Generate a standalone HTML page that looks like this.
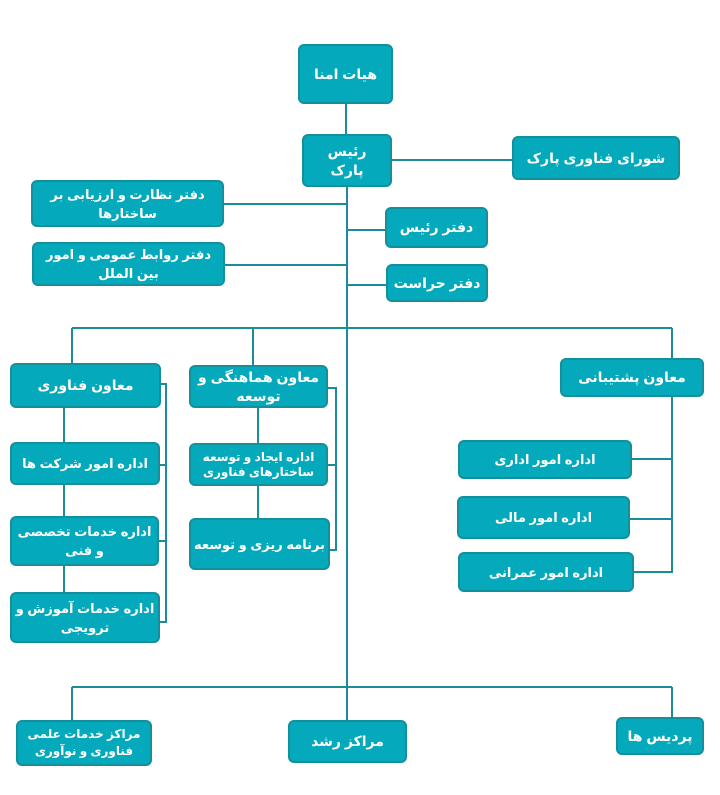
<!DOCTYPE html>
<html><head><meta charset="utf-8"><style>
body{margin:0;width:720px;height:795px;background:#fff;position:relative;overflow:hidden}
.b{position:absolute;box-sizing:border-box;background:#05a9bc;border:2px solid #13909c;border-radius:6px;color:#fff;font-family:"Liberation Sans","DejaVu Sans",sans-serif;font-weight:bold;font-size:14px;line-height:19px;display:flex;align-items:center;justify-content:center;text-align:center;direction:rtl;padding:0 2px;white-space:nowrap}
svg{position:absolute;left:0;top:0}
</style></head><body>
<svg width="720" height="795"><g stroke="#1a8d99" stroke-width="2" fill="none">
<path d="M346 104V134M392 160H512M347 187V720M224 204H347M225 265H347M347 230H385M347 285H386"/>
<path d="M72 328H672M72 328V363M253 328V365M672 328V358"/>
<path d="M64 408V592M161 384H166V622H160M160 465H166M159 541H166"/>
<path d="M258 408V443M258 486V518M328 388H336V550H330M328 465H336"/>
<path d="M672 397V572H634M632 459H672M630 519H672"/>
<path d="M72 687H672M72 687V720M672 687V717"/>
</g></svg>
<div class="b" style="left:298px;top:44px;width:95px;height:60px">هیات امنا</div>
<div class="b" style="left:302px;top:134px;width:90px;height:53px">رئیس<br>پارک</div>
<div class="b" style="left:512px;top:136px;width:168px;height:44px">شورای فناوری پارک</div>
<div class="b" style="left:31px;top:180px;width:193px;height:47px;font-size:13px">دفتر نظارت و ارزیابی بر<br>ساختارها</div>
<div class="b" style="left:32px;top:242px;width:193px;height:44px;font-size:13px">دفتر روابط عمومی و امور<br>بین الملل</div>
<div class="b" style="left:385px;top:207px;width:103px;height:41px">دفتر رئیس</div>
<div class="b" style="left:386px;top:264px;width:102px;height:38px">دفتر حراست</div>
<div class="b" style="left:10px;top:363px;width:151px;height:45px">معاون فناوری</div>
<div class="b" style="left:189px;top:365px;width:139px;height:43px">معاون هماهنگی و<br>توسعه</div>
<div class="b" style="left:560px;top:358px;width:144px;height:39px">معاون پشتیبانی</div>
<div class="b" style="left:10px;top:442px;width:150px;height:43px;font-size:13px">اداره امور شرکت ها</div>
<div class="b" style="left:10px;top:516px;width:149px;height:50px;font-size:13px">اداره خدمات تخصصی<br>و فنی</div>
<div class="b" style="left:10px;top:592px;width:150px;height:51px;font-size:13px">اداره خدمات آموزش و<br>ترویجی</div>
<div class="b" style="left:189px;top:443px;width:139px;height:43px;font-size:12px;line-height:15px">اداره ایجاد و توسعه<br>ساختارهای فناوری</div>
<div class="b" style="left:189px;top:518px;width:141px;height:52px;font-size:13px">برنامه ریزی و توسعه</div>
<div class="b" style="left:458px;top:440px;width:174px;height:39px;font-size:13px">اداره امور اداری</div>
<div class="b" style="left:457px;top:496px;width:173px;height:43px;font-size:13px">اداره امور مالی</div>
<div class="b" style="left:458px;top:552px;width:176px;height:40px;font-size:13px">اداره امور عمرانی</div>
<div class="b" style="left:16px;top:720px;width:136px;height:46px;font-size:12px;line-height:17px">مراکز خدمات علمی<br>فناوری و نوآوری</div>
<div class="b" style="left:288px;top:720px;width:119px;height:43px">مراکز رشد</div>
<div class="b" style="left:616px;top:717px;width:88px;height:38px">پردیس ها</div>
</body></html>
